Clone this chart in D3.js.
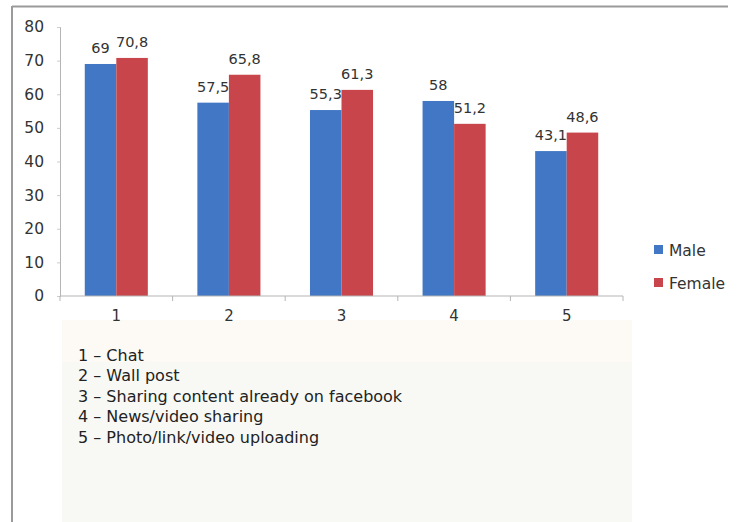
<!DOCTYPE html>
<html><head><meta charset="utf-8">
<script src="https://cdn.jsdelivr.net/npm/d3@7"></script>
<style>body{margin:0;background:#fff}svg{display:block}</style>
</head><body>
<svg id="c" width="749" height="522"></svg>
<script>
const categories = ["1","2","3","4","5"];
const seriesNames = ["Male","Female"];
const maleValues = [69, 57.5, 55.3, 58, 43.1];
const femaleValues = [70.8, 65.8, 61.3, 51.2, 48.6];
const yTicks = [0,10,20,30,40,50,60,70,80];
const notes = ["1 – Chat","2 – Wall post","3 – Sharing content already on facebook","4 – News/video sharing","5 – Photo/link/video uploading"];
const colors = ["#4177c4","#c8464b"];

const svg = d3.select("#c");
const font = "'DejaVu Sans', sans-serif";

// faint background panels
svg.append("rect").attr("x",62).attr("y",320).attr("width",570).attr("height",42).attr("fill","#fdfaf6");
svg.append("rect").attr("x",62).attr("y",362).attr("width",570).attr("height",160).attr("fill","#f8f9f5");
// frame
svg.append("line").attr("x1",12).attr("x2",728).attr("y1",6.5).attr("y2",6.5).attr("stroke","#9a9a9a").attr("stroke-width",2);
svg.append("line").attr("x1",12).attr("x2",12).attr("y1",6).attr("y2",522).attr("stroke","#9a9a9a").attr("stroke-width",2);

const x = d3.scaleBand().domain(categories).range([60,623]).paddingInner(0.44).paddingOuter(0.22);
const xs = d3.scaleBand().domain(seriesNames).range([0,x.bandwidth()]);
const y = d3.scaleLinear().domain([0,80]).range([296,27]);

// y axis
const ya = svg.append("g").attr("transform","translate(60,0)").call(d3.axisLeft(y).tickValues(yTicks).tickSize(3).tickPadding(13));
ya.select(".domain").attr("stroke","#b5b5b5");
ya.selectAll(".tick line").attr("stroke","#ccc");
ya.selectAll("text").attr("font-family",font).attr("font-size",15.5).attr("fill","#333");

// bars
const data = categories.map((c,i)=>({c, vals:[maleValues[i],femaleValues[i]]}));
const g = svg.append("g").selectAll("g").data(data).join("g").attr("transform",d=>`translate(${x(d.c)},0)`);
g.selectAll("rect").data(d=>d.vals.map((v,j)=>({v,s:seriesNames[j],j}))).join("rect")
  .attr("x",d=>xs(d.s)).attr("width",xs.bandwidth()).attr("y",d=>y(d.v)).attr("height",d=>y(0)-y(d.v)).attr("fill",d=>colors[d.j]);
g.selectAll("text").data(d=>d.vals.map((v,j)=>({v,s:seriesNames[j],j}))).join("text")
  .attr("x",d=>xs(d.s)+xs.bandwidth()/2).attr("y",d=>y(d.v)-11).attr("text-anchor","middle")
  .attr("font-family",font).attr("font-size",14.5).attr("fill","#333")
  .text(d=>String(d.v).replace(".",","));

// x axis
const step = (623-60)/categories.length;
const xa = svg.append("g").attr("transform","translate(0,296)");
xa.append("line").attr("x1",60).attr("x2",623).attr("stroke","#b5b5b5");
xa.selectAll("line.t").data(d3.range(categories.length+1)).join("line").attr("class","t")
  .attr("x1",i=>60+i*step).attr("x2",i=>60+i*step).attr("y1",0).attr("y2",5).attr("stroke","#b5b5b5");
xa.selectAll("text").data(categories).join("text").attr("x",d=>x(d)+x.bandwidth()/2).attr("y",25)
  .attr("text-anchor","middle").attr("font-family",font).attr("font-size",15).attr("fill","#333").text(d=>d);

// legend
const lg = svg.append("g").selectAll("g").data(seriesNames).join("g").attr("transform",(d,i)=>`translate(654,${250+i*33})`);
lg.append("rect").attr("x",0).attr("y",-5).attr("width",9).attr("height",9).attr("fill",(d,i)=>colors[i]);
lg.append("text").attr("x",15).attr("y",5.5).attr("font-family",font).attr("font-size",15.5).attr("fill","#333").text(d=>d);

// notes
svg.append("g").selectAll("text").data(notes).join("text").attr("x",78).attr("y",(d,i)=>361+i*20.4)
  .attr("font-family",font).attr("font-size",16).attr("fill","#222").text(d=>d);
</script>
</body></html>
